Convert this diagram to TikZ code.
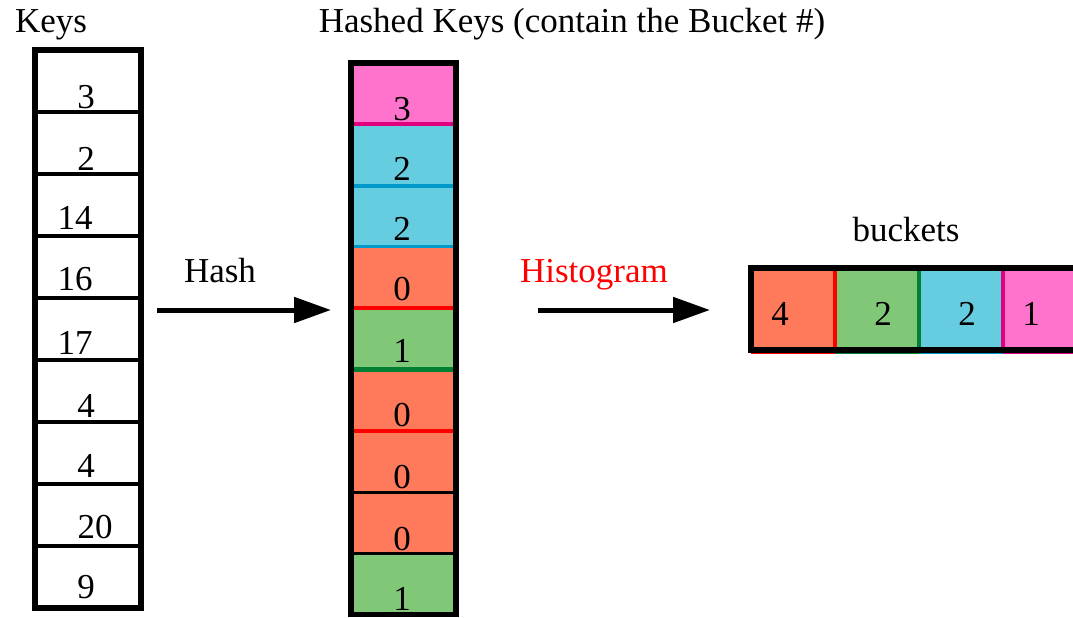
\documentclass[tikz,border=0pt]{standalone}
\usepackage{fontspec}
\setmainfont{Liberation Serif}
\usetikzlibrary{arrows.meta}
\definecolor{pinkf}{HTML}{FF73CC}
\definecolor{pinkl}{HTML}{E0007E}
\definecolor{cyanf}{HTML}{66CCE0}
\definecolor{cyanl}{HTML}{0099CC}
\definecolor{orangef}{HTML}{FF7A5A}
\definecolor{orangel}{HTML}{FF0000}
\definecolor{greenf}{HTML}{80C878}
\definecolor{greenl}{HTML}{008033}
\tikzset{
  txt/.style={inner sep=0pt,outer sep=0pt,font=\fontsize{35}{40}\selectfont},
  keycell/.style={draw,line width=3.5pt,minimum width=106pt,minimum height=62pt,inner sep=0pt,outer sep=0pt},
  hcell/.style={minimum width=105pt,minimum height=61.3pt,inner sep=0pt,outer sep=0pt},
  bcell/.style={minimum width=84pt,minimum height=82pt,inner sep=0pt,outer sep=0pt},
  bigarrow/.style={line width=5pt,-{Triangle[length=37pt,width=25pt]}}
}
\begin{document}
\begin{tikzpicture}[x=1pt,y=-1pt]
\useasboundingbox (0,0) rectangle (1073,618);
\clip (0,0) rectangle (1073,618);

% titles
\node[txt,anchor=base west] (tkeys) at (15,33) {Keys};
\node[txt,anchor=base] (thashed) at (572,33) {Hashed Keys (contain the Bucket \#)};
\node[txt,anchor=base] (tbuckets) at (906,241) {buckets};
\node[txt,anchor=base] (thash) at (220,282) {Hash};
\node[txt,anchor=base,text=red] (thist) at (594,282) {Histogram};

% keys column
\foreach \i in {1,...,9}{
  \node[keycell] (k\i) at (88,{50+62*(\i-0.5)}) {};
}
\draw[line width=5.5pt] (k1.north west) rectangle (k9.south east);
\foreach \i/\x/\y/\t in {1/86/108/3,2/86/170/2,3/75/229/14,4/75/290/16,5/75/354/17,6/86/417/4,7/86/477/4,8/95/538/20,9/86/598/9}{
  \node[txt,anchor=base] (kt\i) at (\x,\y) {\t};
}

% hashed column
\foreach \i/\f/\l in {1/pinkf/pinkl,2/cyanf/cyanl,3/cyanf/cyanl,4/orangef/orangel,5/greenf/greenl,6/orangef/orangel,7/orangef/black,8/orangef/black,9/greenf/black}{
  \node[hcell,fill=\f] (h\i) at (403.5,{63+61.3*(\i-0.5)}) {};
}
\foreach \i/\l/\w in {1/pinkl/4pt,2/cyanl/4pt,3/cyanl/3pt,4/orangel/4pt,5/greenl/4.5pt,6/orangel/4.5pt,7/black/3pt,8/black/3pt}{
  \draw[line width=\w,\l] (h\i.south west) -- (h\i.south east);
}
\draw[line width=5.5pt] (h1.north west) rectangle (h9.south east);
\foreach \i/\y/\t in {1/120/3,2/180/2,3/240/2,4/300/0,5/362/1,6/426/0,7/488/0,8/550/0,9/610/1}{
  \node[txt,anchor=base] (ht\i) at (402,\y) {\t};
}

% buckets
\foreach \j/\f/\l in {1/orangef/orangel,2/greenf/greenl,3/cyanf/cyanl,4/pinkf/pinkl}{
  \node[bcell,fill=\f] (b\j) at ({751+84*(\j-0.5)},309) {};
  \draw[line width=2.5pt,\l] ([yshift=-3pt]b\j.south west) -- ([yshift=-3pt]b\j.south east);
}
\draw[line width=4.5pt,orangel] (b1.north east) -- (b1.south east);
\draw[line width=4.5pt,greenl] (b2.north east) -- (b2.south east);
\draw[line width=4.5pt,pinkl] (b3.north east) -- (b3.south east);
\draw[line width=5.5pt] (b1.north west) rectangle (b4.south east);
\foreach \j/\x/\t in {1/780/4,2/883/2,3/967/2,4/1031/1}{
  \node[txt,anchor=base] (bt\j) at (\x,325) {\t};
}

% arrows
\coordinate (a1s) at (157,310);
\coordinate (a1e) at (331,310);
\coordinate (a2s) at (538,310);
\coordinate (a2e) at (710,310);
\draw[bigarrow] (a1s) -- (a1e);
\draw[bigarrow] (a2s) -- (a2e);
\end{tikzpicture}
\end{document}
